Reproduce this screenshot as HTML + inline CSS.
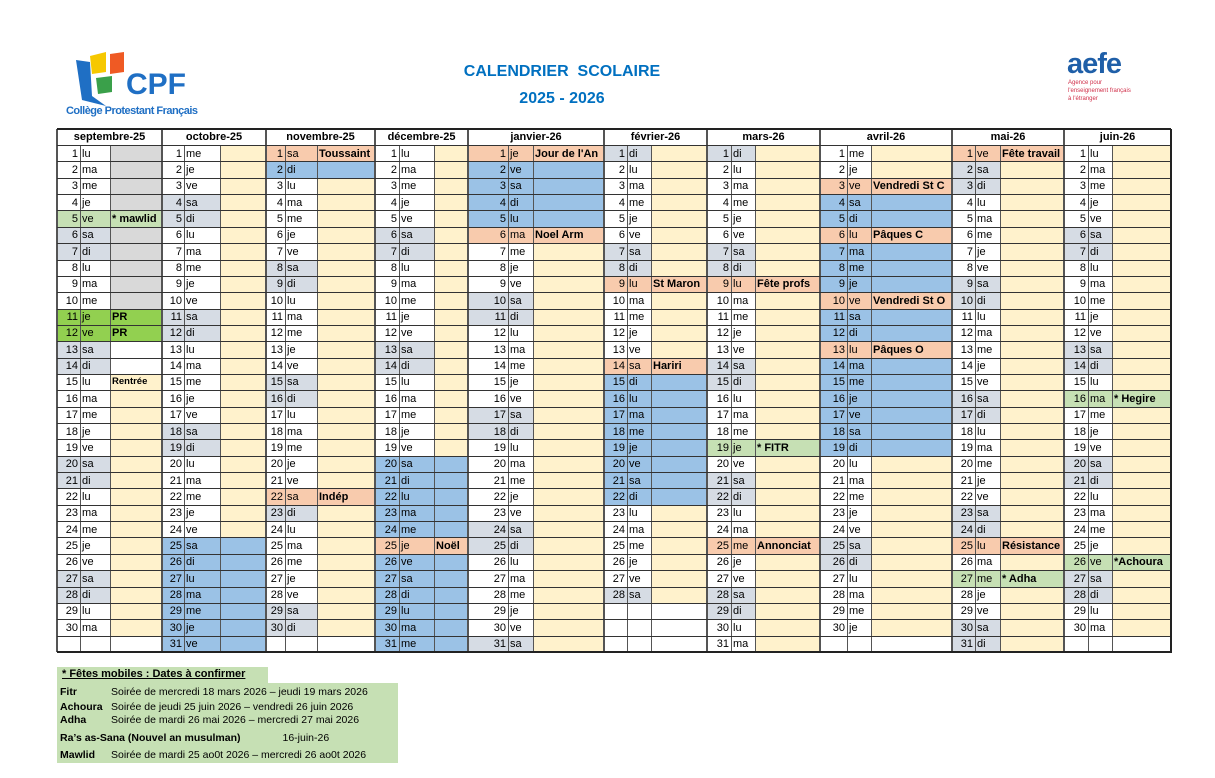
<!DOCTYPE html>
<html><head><meta charset="utf-8"><style>
body{margin:0;width:1215px;height:778px;background:#fff;position:relative;overflow:hidden;font-family:"Liberation Sans",sans-serif;}
.c{position:absolute;box-sizing:border-box;font-size:11px;line-height:16px;white-space:nowrap;overflow:hidden;color:#000;}
.n{text-align:right;padding-right:2px;}
.d{padding-left:2px;}
.e{padding-left:2px;font-weight:bold;}
.t{position:absolute;color:#0070c0;font-weight:bold;font-size:16px;text-align:center;width:300px;left:412px;}
</style></head><body>
<div class="t" style="top:63px">CALENDRIER&nbsp; SCOLAIRE</div>
<div class="t" style="top:90px">2025 - 2026</div>
<svg style="position:absolute;left:60px;top:48px" width="150" height="72">
<path d="M16 12 L30 14 L32 48 L46 58 L22 52 Z" fill="#1f6fc4"/>
<path d="M30 8 L46 4 L46 24 L32 26 Z" fill="#f6c800"/>
<path d="M50 6 L64 4 L64 24 L50 26 Z" fill="#ef5a24"/>
<path d="M36 30 L52 28 L52 44 L38 46 Z" fill="#3aa04a"/>
<text x="66" y="46" font-family="Liberation Sans" font-weight="bold" font-size="30" fill="#1f6fc4">CPF</text>
<text x="6" y="66" font-family="Liberation Sans" font-weight="bold" font-size="11" fill="#1f6fc4" textLength="132">Collège Protestant Français</text>
</svg>
<svg style="position:absolute;left:1064px;top:46px" width="90" height="60">
<text x="3" y="27" font-family="Liberation Sans" font-weight="bold" font-size="29" fill="#1f5fa8" letter-spacing="-1">aefe</text>
<text x="4" y="38" font-family="Liberation Sans" font-size="6" fill="#d0304a">Agence pour</text>
<text x="4" y="46" font-family="Liberation Sans" font-size="6" fill="#d0304a">l'enseignement français</text>
<text x="4" y="54" font-family="Liberation Sans" font-size="6" fill="#d0304a">à l'étranger</text>
</svg>
<div id="cal"></div>
<div style="position:absolute;left:57px;top:667px;width:211px;height:16px;background:#c6e0b4"></div>
<div style="position:absolute;left:57px;top:683px;width:341px;height:80px;background:#c6e0b4"></div>
<div style="position:absolute;left:62px;top:668px;font-size:11px;font-weight:bold;text-decoration:underline;">* Fêtes mobiles : Dates à confirmer</div>
<div style="position:absolute;left:60px;top:684px;font-size:10.5px;line-height:16px;">
<div><b style="display:inline-block;width:51px">Fitr</b>Soirée de mercredi 18 mars 2026 – jeudi 19 mars 2026</div>
<div style="margin-top:-1px"><b style="display:inline-block;width:51px">Achoura</b>Soirée de jeudi 25 juin 2026 – vendredi 26 juin 2026</div>
<div style="margin-top:-3px"><b style="display:inline-block;width:51px">Adha</b>Soirée de mardi 26 mai 2026 – mercredi 27 mai 2026</div>
<div style="margin-top:2px"><b>Ra’s as-Sana (Nouvel an musulman)</b><span style="margin-left:42px">16-juin-26</span></div>
<div style="margin-top:1px"><b style="display:inline-block;width:51px">Mawlid</b>Soirée de mardi 25 ao0t 2026 – mercredi 26 ao0t 2026</div>
</div>
<script>
var M=[
{h:"septembre-25",y:2025,m:8,x:[57,80,110,162]},
{h:"octobre-25",y:2025,m:9,x:[162,184,220,266]},
{h:"novembre-25",y:2025,m:10,x:[266,285,317,375]},
{h:"décembre-25",y:2025,m:11,x:[375,399,434,468]},
{h:"janvier-26",y:2026,m:0,x:[468,508,533,604]},
{h:"février-26",y:2026,m:1,x:[604,627,651,707]},
{h:"mars-26",y:2026,m:2,x:[707,731,755,820]},
{h:"avril-26",y:2026,m:3,x:[820,847,871,952]},
{h:"mai-26",y:2026,m:4,x:[952,975,1000,1064]},
{h:"juin-26",y:2026,m:5,x:[1064,1088,1112,1171]}];
var DN=["di","lu","ma","me","je","ve","sa"];
var B="#9bc2e6",S="#f8cbad",G="#c6e0b4",GG="#92d050",P="#fff2cc",W="#d6dce4";
function rng(a,b){var r=[];for(var i=a;i<=b;i++)r.push(i);return r;}
var blue={9:rng(25,31),10:[2],11:rng(20,24).concat(rng(26,31)),0:rng(2,5),1:rng(15,22),3:[4,5,7,8,9,11,12].concat(rng(14,19))};
var sp={
"10-1":[S,"Toussaint"],"10-22":[S,"Indép"],"11-25":[S,"Noël"],"0-1":[S,"Jour de l'An"],"0-6":[S,"Noel Arm"],
"1-9":[S,"St Maron"],"1-14":[S,"Hariri"],"2-9":[S,"Fête profs"],"2-25":[S,"Annonciat"],
"3-3":[S,"Vendredi St C"],"3-6":[S,"Pâques C"],"3-10":[S,"Vendredi St O"],"3-13":[S,"Pâques O"],
"4-1":[S,"Fête travail"],"4-25":[S,"Résistance"],
"8-5":[G,"* mawlid"],"2-19":[G,"* FITR"],"4-27":[G,"* Adha"],"5-16":[G,"* Hegire"],"5-26":[G,"*Achoura"],
"8-11":[GG,"PR"],"8-12":[GG,"PR"]};
var top0=129,hh=16.5,rh=16.35,out="";
function cell(cls,x,w,y,h,bg,txt,extra){out+='<div class="c '+cls+'" style="left:'+x+'px;top:'+y.toFixed(1)+'px;width:'+w+'px;height:'+h.toFixed(1)+'px;background:'+bg+';'+(extra||'')+'">'+txt+'</div>';}
M.forEach(function(mo){
 var x=mo.x;
 out+='<div class="c" style="left:'+x[0]+'px;top:'+top0+'px;width:'+(x[3]-x[0])+'px;height:'+hh+'px;text-align:center;font-weight:bold;font-size:11px;line-height:17px">'+mo.h+'</div>';
 var nd=new Date(mo.y,mo.m+1,0).getDate();
 for(var d=1;d<=31;d++){
  var y=top0+hh+(d-1)*rh;
  var bn="#fff",be=P,n="",dn="",ev="",ex="";
  if(d<=nd){
   var wd=new Date(mo.y,mo.m,d).getDay();n=d;dn=DN[wd];
   if(wd==0||wd==6)bn=W;
   if(mo.m==8){be=d<=12?"#d9d9d9":(d<=14?"#fff":P);if(d==15){ev="Rentrée";ex="font-size:9.5px;";}}
   if(blue[mo.m]&&blue[mo.m].indexOf(d)>=0){bn=B;be=B;}
   var s=sp[mo.m+"-"+d];if(s){bn=s[0];be=s[0];ev=s[1];}
  } else {be="#fff";}
  cell("n",x[0],x[1]-x[0],y,rh,bn,n);
  cell("d",x[1],x[2]-x[1],y,rh,bn,dn);
  cell("e",x[2],x[3]-x[2],y,rh,be,ev,ex);
 }
 [x[1],x[2]].forEach(function(v){out+='<div style="position:absolute;left:'+(v-0.5)+'px;top:'+(top0+hh)+'px;width:1px;height:'+(31*rh)+'px;background:#555"></div>';});
 out+='<div style="position:absolute;left:'+(x[0]-1)+'px;top:'+top0+'px;width:2px;height:'+(hh+31*rh)+'px;background:#555"></div>';
});
for(var i=0;i<=32;i++){var y=i==0?top0:top0+hh+(i-1)*rh;out+='<div style="position:absolute;left:57px;top:'+(y-0.5).toFixed(1)+'px;width:1114px;height:1px;background:#333"></div>';}
out+='<div style="position:absolute;left:57px;top:'+(top0-1)+'px;width:1114px;height:2px;background:#222"></div>';
out+='<div style="position:absolute;left:57px;top:'+(top0+hh+31*rh-1).toFixed(1)+'px;width:1115px;height:2px;background:#222"></div>';
out+='<div style="position:absolute;left:1170px;top:'+top0+'px;width:2px;height:'+(hh+31*rh)+'px;background:#222"></div>';
document.getElementById("cal").innerHTML=out;
</script>
</body></html>
